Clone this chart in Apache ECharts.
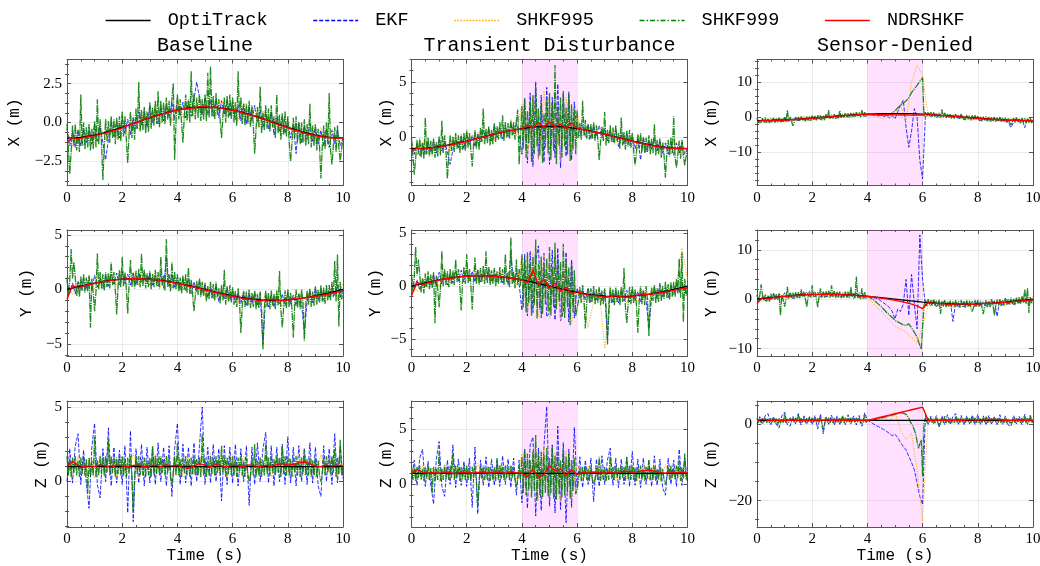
<!DOCTYPE html>
<html><head><meta charset="utf-8">
<script src="https://cdn.jsdelivr.net/npm/echarts@6/dist/echarts.min.js"></script>
<style>html,body{margin:0;padding:0;background:#fff}#c{width:1040px;height:566px}</style>
</head><body><div id="c"></div>
<script>
// ---------------- DATA ----------------
const seriesNames = ['OptiTrack','EKF','SHKF995','SHKF999','NDRSHKF'];
const columnTitles = ['Baseline','Transient Disturbance','Sensor-Denied'];
const rowLabels = ['X (m)','Y (m)','Z (m)'];
const xTickValues = [0,2,4,6,8,10];
const yMajorTicks = [[-2.5,0,2.5],[0,5],[-10,0,10],[-5,0,5],[-5,0,5],[-10,0,10],[0,5],[0,5],[-20,0]];

// sampling grids (s)
const tTruth = Array.from({length:21},(_,i)=>i*0.5);
const t005 = Array.from({length:201},(_,i)=>+(i*0.05).toFixed(2));
const t01 = Array.from({length:101},(_,i)=>+(i*0.1).toFixed(1));
const t02 = Array.from({length:51},(_,i)=>+(i*0.2).toFixed(1));

// OptiTrack reference (every 0.5 s)
const truthX = [-1,-0.951,-0.809,-0.588,-0.309,0,0.309,0.588,0.809,0.951,1,0.951,0.809,0.588,0.309,0,-0.309,-0.588,-0.809,-0.951,-1];
const truthY = [0,0.309,0.588,0.809,0.951,1,0.951,0.809,0.588,0.309,0,-0.309,-0.588,-0.809,-0.951,-1,-0.951,-0.809,-0.588,-0.309,0];
const truthZ = [1,1,1,1,1,1,1,1,1,1,1,1,1,1,1,1,1,1,1,1,1];

// ---- X row ----
const ekfBaseX = [
-0.4,-1.5,-0.6,-1.6,-0.5,-1.5,-0.4,-1.3,-0.3,-1.4,
-0.1,-1.2,-0.3,-1.3,-2.4,-1.1,0.0,-0.9,0.1,-1.0,
0.4,-0.7,0.2,-0.8,0.3,-0.4,0.7,-0.2,0.8,-0.3,
1.1,0.0,0.9,-0.1,1.0,0.1,1.2,0.3,1.3,0.2,
1.5,0.4,1.3,0.3,1.4,0.4,1.5,2.6,1.6,0.5,
1.6,0.5,1.4,0.4,1.5,0.3,1.4,0.5,1.5,0.4,
1.3,0.2,1.1,0.1,1.2,-0.1,1.0,0.1,1.1,0.0,
0.8,-0.3,0.6,-0.4,0.7,-0.8,0.3,-0.6,0.4,-0.7,
0.1,-1.0,-0.1,-2.0,0.0,-1.3,-0.2,-1.1,-0.1,-1.2,
-0.3,-1.4,-0.5,-1.5,-0.4,-1.6,-0.5,-1.4,-0.4,-1.5,
-1.0];
const shkf995BaseX = [
-0.4,-1.6,-0.4,-1.5,-0.3,-1.4,-0.1,-1.2,0.1,-1.0,
0.3,-0.8,0.5,-0.5,0.8,-0.3,1.0,-0.1,1.2,0.1,
1.4,0.3,1.5,0.4,1.6,0.4,1.6,0.4,1.5,0.3,
1.4,0.1,1.2,-0.1,1.0,-0.3,0.8,-0.5,0.5,-0.8,
0.3,-1.0,0.1,-1.2,-0.1,-1.4,-0.3,-1.5,-0.4,-1.6,-1.0];
const shkf999BaseX = [
-0.1,-1.7,-3.3,-1.9,-0.2,-1.5,-0.1,-1.8,-0.5,-1.9,1.8,-1.5,0.0,-1.7,-0.3,-1.6,-0.1,-1.8,-0.4,-1.7,
0.1,-1.6,1.5,-1.4,0.2,-1.3,-3.7,-1.5,0.2,-1.2,0.1,-1.3,0.4,-1.0,0.2,-1.4,0.3,-1.1,0.4,-1.2,
0.7,-0.9,0.4,-1.1,-2.6,-0.7,0.7,-1.0,0.3,-1.1,0.9,-0.4,2.6,-0.6,0.8,-0.5,1.0,-0.7,0.7,-0.6,
1.3,-0.4,1.0,-0.2,1.4,-0.1,2.0,-0.3,1.4,0.0,1.3,-0.1,1.6,0.2,1.4,-0.2,1.5,2.5,-2.4,0.0,
1.8,0.2,1.5,0.0,-1.3,0.4,1.8,0.1,1.4,0.0,3.3,0.4,1.9,0.2,1.6,0.3,1.8,0.1,1.5,0.2,
1.8,0.1,3.2,0.3,3.6,0.4,1.7,0.2,1.9,0.5,1.5,0.1,-1.0,0.4,1.6,0.0,1.7,0.3,1.8,0.2,
1.6,0.0,1.3,-0.2,3.3,0.2,1.6,-0.1,1.2,-0.2,1.2,-0.1,1.4,-0.3,1.1,-0.2,-2.0,-0.4,1.0,-0.3,
2.3,-0.7,0.7,-0.5,1.1,-0.4,0.9,-0.6,1.1,-0.3,0.4,-1.0,1.8,-0.7,0.5,-1.1,0.6,-0.8,0.7,-0.9,
0.4,-1.2,-2.5,-1.4,0.3,-1.0,0.4,-1.3,0.0,-1.4,0.0,-1.3,0.2,-1.5,-0.1,-1.4,1.2,-1.6,-0.2,-1.5,
-0.1,-1.8,-0.4,-1.6,-3.6,-1.5,-0.2,-1.7,0.0,-1.4,1.9,-1.8,-2.7,-1.5,-0.3,-1.9,-0.2,-1.6,-2.5,-1.7,
-1.0];
const ndrBaseX = [
-1.3,-0.95,-1.05,-0.97,-0.9,-0.86,-0.75,-0.68,-0.56,-0.47,
-0.35,-0.2,-0.08,0.04,0.2,0.33,0.41,0.55,0.6,0.72,
0.8,0.86,0.9,0.95,1.02,1.05,0.95,1.0,0.92,0.82,
0.8,0.72,0.6,0.5,0.4,0.28,0.2,0.02,-0.1,-0.22,
-0.33,-0.48,-0.55,-0.68,-0.76,-0.85,-0.92,-0.95,-1.0,-1.0,-0.98];

const ekfTransX = [
-0.4,-1.5,-0.6,-1.6,-0.5,-1.5,-0.4,-1.3,-0.3,-1.4,
-0.1,-1.2,-0.3,-1.3,-2.4,-1.1,0.0,-0.9,0.1,-1.0,
0.4,-0.7,0.2,-0.8,0.3,-0.4,0.7,-0.2,0.8,-0.3,
1.1,0.0,0.9,-0.1,1.0,0.1,1.2,0.3,1.3,0.2,
-1.5,3.5,-2.3,4.0,-2.6,5.0,-1.9,3.8,-2.2,4.5,
-2.4,3.6,-1.8,4.8,-2.7,3.9,-1.7,4.1,-2.0,3.2,
0.0,0.2,1.1,0.1,1.2,-0.1,1.0,0.1,1.1,0.0,
0.8,-0.3,0.6,-0.4,0.7,-0.8,0.3,-0.6,0.4,-0.7,
0.1,-1.0,-0.1,-2.0,0.0,-1.3,-0.2,-1.1,-0.1,-1.2,
-0.3,-1.4,-0.5,-1.5,-0.4,-1.6,-0.5,-1.4,-0.4,-1.5,
-1.0];
const shkf995TransX = [
-0.4,-1.6,-0.4,-1.5,-0.3,-1.4,-0.1,-1.2,0.1,-1.0,
0.3,-0.8,0.5,-0.5,0.8,-0.3,1.0,-0.1,1.2,0.1,
3.0,-1.8,3.8,-2.0,4.2,-1.6,3.5,-2.2,3.6,-1.4,
2.2,0.1,1.2,-0.1,1.0,-0.3,0.8,-0.5,0.5,-0.8,
0.3,-1.0,0.1,-1.2,-0.1,-1.4,-0.3,-1.5,-0.4,-1.6,-1.0];
const shkf999TransX = [
-0.1,-1.7,-3.3,-1.9,-0.2,-1.5,-0.1,-1.8,-0.5,-1.9,1.8,-1.5,0.0,-1.7,-0.3,-1.6,-0.1,-1.8,-0.4,-1.7,
0.1,-1.6,1.5,-1.4,0.2,-1.3,-3.7,-1.5,0.2,-1.2,0.1,-1.3,0.4,-1.0,0.2,-1.4,0.3,-1.1,0.4,-1.2,
0.7,-0.9,0.4,-1.1,-2.6,-0.7,0.7,-1.0,0.3,-1.1,0.9,-0.4,2.6,-0.6,0.8,-0.5,1.0,-0.7,0.7,-0.6,
1.3,-0.4,1.0,-0.2,1.4,-0.1,2.0,-0.3,1.4,0.0,1.3,-0.1,1.6,0.2,1.4,-0.2,1.5,2.5,-2.4,0.0,
2.8,-1.0,3.5,-1.8,2.4,-0.5,3.2,-2.2,3.8,-1.5,4.5,-0.8,2.6,-1.6,3.0,-2.3,2.2,-0.9,3.4,-1.4,
4.0,-2.0,3.1,-1.2,6.5,-2.4,2.8,-0.7,3.6,-1.8,4.2,-0.8,2.7,-1.5,3.9,-2.1,3.0,-1.1,2.5,-1.5,
2.5,0.0,1.3,-0.2,3.3,0.2,1.6,-0.1,1.2,-0.2,1.2,-0.1,1.4,-0.3,1.1,-0.2,-2.0,-0.4,1.0,-0.3,
2.3,-0.7,0.7,-0.5,1.1,-0.4,0.9,-0.6,1.1,-0.3,0.4,-1.0,1.8,-0.7,0.5,-1.1,0.6,-0.8,0.7,-0.9,
0.4,-1.2,-2.5,-1.4,0.3,-1.0,0.4,-1.3,0.0,-1.4,0.0,-1.3,0.2,-1.5,-0.1,-1.4,1.2,-1.6,-0.2,-1.5,
-0.1,-1.8,-0.4,-1.6,-3.6,-1.5,-0.2,-1.7,0.0,-1.4,1.9,-1.8,-2.7,-1.5,-0.3,-1.9,-0.2,-1.6,-2.5,-1.7,
-1.0];
const ndrTransX = [
-1.3,-0.95,-1.05,-0.97,-0.9,-0.86,-0.75,-0.68,-0.56,-0.47,
-0.35,-0.2,-0.08,0.04,0.2,0.33,0.41,0.55,0.6,0.72,
0.75,1.1,0.85,1.3,0.9,1.4,1.0,1.2,0.8,1.3,
0.85,0.72,0.6,0.5,0.4,0.28,0.2,0.02,-0.1,-0.22,
-0.33,-0.48,-0.55,-0.68,-0.76,-0.85,-0.92,-0.95,-1.0,-1.0,-0.98];

const ekfSensX = [
-0.4,-1.5,-0.6,-1.6,-0.5,-1.5,-0.4,-1.3,-0.3,-1.4,
-0.1,-1.2,-0.3,-1.3,-0.2,-1.1,0.0,-0.9,0.1,-1.0,
0.4,-0.7,0.2,-0.8,0.3,-0.4,0.7,-0.2,0.8,-0.3,
1.1,0.0,0.9,-0.1,1.0,0.1,1.2,0.3,1.3,0.2,
0.6,0.8,0.4,0.7,0.3,0.6,0.2,0.5,-0.3,0.4,
-0.5,1.5,3.5,4.8,-3.0,-8.6,-4.0,2.4,0.0,-12.4,
-17.6,0.2,1.1,0.1,1.2,-0.1,1.0,0.1,1.1,0.0,
0.8,-0.3,0.6,-0.4,0.7,-0.8,0.3,-0.6,0.4,-0.7,
0.1,-1.0,-0.1,-1.1,0.0,-1.3,-0.2,-1.1,-0.1,-1.2,
-0.3,-1.4,-3.0,-1.5,-0.4,-1.6,-0.5,-3.0,-0.4,-1.5,
-1.0];
const shkf995SensX = [
-0.4,-1.6,-0.4,-1.5,-0.3,-1.4,-0.1,-1.2,0.1,-1.0,
0.3,-0.8,0.5,-0.5,0.8,-0.3,1.0,-0.1,1.2,0.1,
0.8,0.4,0.0,-0.5,0.2,1.5,3.5,-1.5,10.0,14.7,
12.0,0.1,1.2,-0.1,1.0,-0.3,0.8,-0.5,0.5,-0.8,
0.3,-1.0,0.1,-1.2,-0.1,-1.4,-0.3,-1.5,-0.4,-1.6,-1.0];
const shkf999SensX = [
-0.3,-1.6,-2.0,-1.7,-0.3,-1.4,-0.2,-1.6,-0.6,-1.7,-0.3,-1.4,-0.2,-1.6,-0.4,-1.5,-0.2,-1.6,-0.5,-1.5,
0.0,-1.4,2.0,-1.3,0.0,-1.2,-2.5,-1.4,0.0,-1.1,0.0,-1.1,0.2,-0.9,0.1,-1.2,0.2,-1.0,0.2,-1.1,
0.5,-0.8,0.3,-0.9,0.5,-0.7,0.5,-0.9,0.2,-0.9,0.8,-0.4,2.0,-0.5,0.7,-0.4,0.8,-0.5,0.6,-0.5,
1.8,-0.2,0.9,-0.1,1.2,0.0,1.0,-0.2,1.2,0.0,1.2,0.0,1.4,0.2,1.3,0.0,2.0,0.1,1.4,0.1,
0.8,0.9,0.7,0.8,0.6,0.7,0.6,0.7,0.5,0.6,0.5,0.6,0.4,0.5,0.5,0.6,0.7,0.9,1.1,1.3,
1.8,2.2,2.6,3.0,3.3,3.6,4.0,4.3,4.6,5.0,5.5,6.2,7.0,7.5,8.0,8.5,9.0,9.6,10.2,10.7,
11.2,0.2,1.4,0.1,1.3,0.2,1.4,0.0,1.3,0.1,1.1,-0.1,1.2,-0.2,2.2,-0.1,1.2,-0.3,0.9,-0.2,
0.8,-0.5,0.6,-0.4,0.9,-0.3,0.7,-0.5,0.9,-0.2,0.3,-0.8,0.5,-0.6,0.4,-0.9,0.5,-0.7,0.5,-0.8,
0.2,-1.1,0.0,-1.2,0.1,-0.9,0.2,-1.2,-0.1,-1.2,-0.1,-1.2,0.0,-1.4,-0.2,-1.3,0.0,-1.4,-0.3,-1.3,
-0.2,-1.6,-0.4,-1.5,-2.2,-1.4,-0.3,-1.6,-0.1,-1.3,-0.4,-1.7,-0.2,-1.5,-0.3,-1.8,-0.3,-1.6,-0.2,-1.7,
-1.0];
const ndrSensX = [
-1.3,-0.95,-1.05,-0.97,-0.9,-0.86,-0.75,-0.68,-0.56,-0.47,
-0.35,-0.2,-0.08,0.04,0.2,0.33,0.41,0.55,0.6,0.72,
0.8,0.75,0.7,0.68,0.65,0.62,0.6,0.58,0.56,0.55,
0.54,0.95,0.6,0.5,0.4,0.28,0.2,0.02,-0.1,-0.22,
-0.33,-0.48,-0.55,-0.68,-0.76,-0.85,-0.92,-0.95,-1.0,-1.0,-0.98];

// ---- Y row ----
const ekfBaseY = [
0.8,-0.3,0.6,-0.4,0.7,-0.1,1.0,0.1,1.1,0.0,
1.3,0.2,1.1,0.1,1.2,0.3,1.4,0.5,1.5,0.4,
1.6,0.5,1.4,0.4,1.5,0.4,1.5,0.6,1.6,0.5,
1.5,0.4,1.3,0.3,1.4,0.1,3.0,0.3,1.3,0.2,
1.1,0.0,0.9,-0.1,1.0,-0.4,0.7,-0.2,0.8,-0.3,
0.4,-0.7,0.2,-0.8,0.3,-1.1,0.0,-0.9,0.1,-1.0,
-0.1,-1.2,-0.3,-1.3,-0.2,-1.5,-0.4,-1.3,-0.3,-1.4,
-0.4,-5.0,-0.6,-1.6,-0.5,-1.6,-0.5,-1.4,-0.4,-1.5,
-0.3,-1.4,-0.5,-1.5,-0.4,-1.3,-4.0,-1.1,-0.1,-1.2,
0.1,-1.0,-0.1,-1.1,0.0,-0.8,0.3,-0.6,0.4,-0.7,
0.0];
const shkf995BaseY = [
0.6,-0.5,0.8,-0.2,1.1,0.0,1.3,0.2,1.4,0.3,
1.5,0.4,1.6,0.4,1.6,0.4,1.5,0.2,1.4,0.1,
1.2,-0.1,1.0,-0.4,0.7,-0.6,0.5,-0.8,0.2,-1.0,
0.0,-1.3,-0.1,-1.4,-0.3,-1.5,-0.4,-1.6,-0.4,-1.6,
-0.4,-1.5,-0.3,-1.4,-0.1,-1.2,0.0,-1.0,0.3,-0.9,0.6];
const shkf999BaseY = [
1.1,-0.5,0.8,3.7,1.0,2.5,1.1,-0.6,0.7,-0.7,1.2,-0.1,1.4,-0.3,1.1,-0.2,1.3,-3.5,1.0,-0.3,
-2.0,-0.2,3.3,0.0,1.6,0.1,1.4,-0.1,1.6,0.2,1.5,0.1,2.5,0.4,1.6,0.0,-2.3,0.3,1.8,0.2,
3.0,0.3,1.6,0.1,-2.2,0.5,2.7,0.2,1.5,0.1,1.7,0.4,1.9,0.2,3.3,0.3,1.8,0.1,1.5,0.2,
1.7,0.0,1.4,0.2,1.8,0.3,1.6,0.1,3.0,0.4,1.3,-0.1,4.6,0.2,1.4,-0.2,2.5,0.1,1.6,0.0,
1.4,-0.2,1.1,-0.4,1.3,0.0,1.4,-0.3,2.0,-0.4,0.9,-0.4,-2.0,-0.6,0.8,-0.5,1.0,-0.7,0.7,-0.6,
0.6,-1.1,0.3,-0.9,0.7,-0.8,0.5,-1.0,0.7,-0.7,0.1,-1.3,0.4,-1.0,1.8,-1.4,0.3,-1.1,0.4,-1.2,
0.2,-1.4,-0.1,-1.6,0.1,-1.2,-4.0,-1.5,-0.2,-1.6,-0.2,-1.5,0.0,-1.7,-0.3,-1.6,-0.1,-1.8,-0.4,-1.7,
-0.2,-1.9,-5.5,-1.7,-0.1,-1.6,-0.3,-1.8,-0.1,-1.5,-0.4,-1.8,-0.1,-1.5,1.7,-1.9,-3.5,-1.6,-0.1,-1.7,
0.0,-1.6,-0.3,-1.8,-4.4,-1.4,0.0,-1.7,-0.4,-1.8,0.0,-1.3,-4.7,-1.5,-0.1,-1.4,0.1,-1.6,-0.2,-1.5,
0.3,-1.4,0.0,-1.2,0.4,-1.1,0.2,-1.3,0.4,-1.0,0.4,-1.0,0.7,-0.7,2.6,-1.1,3.2,-3.4,0.7,-0.9,
-0.3];
const ndrBaseY = [
-0.9,0.35,0.15,0.3,0.45,0.55,0.7,0.72,0.82,0.9,
0.95,0.95,1.0,1.0,0.95,0.9,0.92,0.8,0.72,0.65,
0.55,0.45,0.3,0.2,0.1,-0.05,-0.15,-0.3,-0.4,-0.55,
-0.6,-0.72,-0.85,-0.9,-0.95,-1.05,-1.0,-0.9,-1.0,-1.05,
-1.0,-0.85,-0.82,-0.78,-0.72,-0.62,-0.55,-0.45,-0.35,-0.25,-0.15];

const ekfTransY = [
0.8,-0.3,0.6,-0.4,0.7,-0.1,1.0,0.1,1.1,0.0,
1.3,0.2,1.1,0.1,1.2,0.3,1.4,0.5,1.5,0.4,
1.6,0.5,1.4,0.4,1.5,0.4,1.5,0.6,1.6,0.5,
1.5,0.4,1.3,0.3,1.4,0.1,3.0,0.3,1.3,0.2,
-2.3,3.0,-2.8,3.3,-2.5,2.4,3.8,-3.0,3.1,-2.9,
-2.5,3.4,-3.2,3.6,-3.3,-2.4,3.2,-3.4,2.5,-3.0,
-0.2,-1.2,-0.3,-1.3,-0.2,-1.5,-0.4,-1.3,-0.3,-1.4,
-0.4,-5.0,-0.6,-1.6,-0.5,-1.6,-0.5,-1.4,-0.4,-1.5,
-0.3,-1.4,-0.5,-1.5,-0.4,-1.3,-4.0,-1.1,-0.1,-1.2,
0.1,-1.0,-0.1,-1.1,0.0,-0.8,0.3,-0.6,0.4,-0.7,
0.0];
const shkf995TransY = [
0.6,-0.5,0.8,-0.2,1.1,0.0,1.3,0.2,1.4,0.3,
1.5,0.4,1.6,0.4,1.6,0.4,1.5,0.2,1.4,0.1,
2.8,-2.5,3.2,-2.9,3.0,-3.1,2.6,-3.3,2.4,-3.5,
-0.6,-1.3,-3.9,-1.4,-0.3,-5.9,-0.4,-1.6,-0.4,-1.6,
-0.4,-1.5,-0.3,-1.4,-0.1,-1.2,0.0,-1.0,0.3,3.6,0.6];
const shkf999TransY = [
1.1,-0.5,0.8,3.7,1.0,2.5,1.1,-0.6,0.7,-0.7,1.2,-0.1,1.4,-0.3,1.1,-0.2,1.3,-3.5,1.0,-0.3,
-2.0,-0.2,3.3,0.0,1.6,0.1,1.4,-0.1,1.6,0.2,1.5,0.1,2.5,0.4,1.6,0.0,-2.3,0.3,1.8,0.2,
3.0,0.3,1.6,0.1,-2.2,0.5,2.7,0.2,1.5,0.1,1.7,0.4,1.9,0.2,3.3,0.3,1.8,0.1,1.5,0.2,
1.7,0.0,1.4,0.2,1.8,0.3,1.6,0.1,3.0,0.4,1.3,-0.1,4.6,0.2,1.4,-0.2,2.5,0.1,1.6,0.0,
3.0,-2.0,2.5,-2.5,3.2,-1.6,2.2,-2.8,2.8,-1.8,4.4,-3.1,2.1,-2.2,2.8,-2.6,2.0,-1.7,2.6,-2.4,
3.7,-2.8,1.8,-2.0,4.1,-2.2,2.6,-1.5,2.3,-2.9,4.0,-3.0,2.4,-2.0,1.8,-3.7,2.2,-2.5,1.5,-2.8,
-2.8,-1.4,-0.1,-1.6,0.1,-1.2,-4.0,-1.5,-0.2,-1.6,-0.2,-1.5,0.0,-1.7,-0.3,-1.6,-0.1,-1.8,-0.4,-1.7,
-0.2,-1.9,-5.5,-1.7,-0.1,-1.6,-0.3,-1.8,-0.1,-1.5,-0.4,-1.8,-0.1,-1.5,1.7,-1.9,-3.5,-1.6,-0.1,-1.7,
0.0,-1.6,-0.3,-1.8,-4.4,-1.4,0.0,-1.7,-0.4,-1.8,0.0,-1.3,-4.7,-1.5,-0.1,-1.4,0.1,-1.6,-0.2,-1.5,
0.3,-1.4,0.0,-1.2,0.4,-1.1,0.2,-1.3,0.4,-1.0,0.4,-1.0,0.7,-0.7,2.6,-1.1,3.2,-3.4,0.7,-0.9,
-0.3];
const ndrTransY = [
-0.9,0.35,0.15,0.3,0.45,0.55,0.7,0.72,0.82,0.9,
0.95,0.95,1.0,1.0,0.95,0.9,0.92,0.8,0.72,0.65,
0.6,0.3,1.5,0.1,0.6,-0.2,0.3,-0.5,-0.1,-0.7,
-0.5,-0.72,-0.85,-0.9,-0.95,-1.05,-1.0,-0.9,-1.0,-1.05,
-1.0,-0.85,-0.82,-0.78,-0.72,-0.62,-0.55,-0.45,-0.35,-0.25,-0.15];

const ekfSensY = [
0.8,-0.3,0.6,-0.4,0.7,-0.1,1.0,0.1,1.1,0.0,
1.3,0.2,1.1,0.1,1.2,0.3,1.4,0.5,1.5,0.4,
1.6,0.5,1.4,0.4,1.5,0.4,1.5,0.6,1.6,0.5,
1.5,0.4,1.3,0.3,1.4,0.1,1.2,0.3,1.3,0.2,
0.6,0.5,0.3,0.2,0.0,-0.4,-0.8,-1.2,-1.7,-2.5,
-4.0,-2.0,-2.5,-1.0,4.0,-3.3,5.0,-1.0,-6.0,13.0,
4.0,-1.2,-0.3,-1.3,-0.2,-1.5,-0.4,-1.3,-0.3,-1.4,
-0.4,-4.5,-0.6,-1.6,-0.5,-1.6,-0.5,-1.4,-0.4,-1.5,
-0.3,-1.4,-0.5,-1.5,-0.4,-1.3,-0.2,-3.5,-0.1,-1.2,
0.1,-1.0,-0.1,-1.1,0.0,-0.8,0.3,-0.6,0.4,-0.7,
0.0];
const shkf995SensY = [
0.6,-0.5,0.8,-0.2,1.1,0.0,1.3,0.2,1.4,0.3,
1.5,0.4,1.6,0.4,1.6,0.4,1.5,0.2,1.4,0.1,
0.6,-0.8,-2.0,-3.0,-4.3,-5.5,-6.0,-6.7,-7.8,-8.8,
-5.5,-1.3,-0.1,-1.4,-0.3,-1.5,-0.4,-1.6,-0.4,-1.6,
-0.4,-1.5,-0.3,-1.4,-0.1,-1.2,0.0,-1.0,0.3,-0.9,0.6];
const shkf999SensY = [
0.9,-0.4,0.7,3.0,0.8,-0.3,0.9,-0.5,0.6,-0.5,1.1,0.0,1.2,-0.2,1.0,-0.1,1.2,-3.3,0.9,-0.2,
-1.5,0.0,2.5,0.1,1.4,0.2,1.3,0.0,1.4,0.2,1.4,0.2,2.0,0.4,1.5,0.1,-1.6,0.3,1.6,0.3,
2.8,0.4,1.5,0.2,-1.6,0.5,2.2,0.3,1.4,0.3,1.6,0.4,1.7,0.3,2.8,0.4,1.6,0.2,1.5,0.3,
1.5,0.2,1.3,0.3,1.6,0.3,1.5,0.2,2.5,0.4,1.2,0.1,4.6,0.2,1.3,0.0,2.2,0.1,1.4,0.1,
0.6,0.5,0.3,0.2,0.0,-0.2,-0.5,-0.7,-1.0,-1.2,-1.5,-1.8,-2.1,-2.4,-2.7,-3.0,-3.2,-3.5,-3.7,-4.0,
-4.3,-4.4,-4.6,-4.8,-4.9,-5.1,-5.2,-5.3,-5.3,-5.2,-5.0,-5.4,-5.8,-6.2,-6.7,-7.2,-7.7,-8.5,-9.4,-10.1,
-10.3,-1.3,-0.1,-1.4,0.0,-1.1,-0.2,-1.3,-0.1,-1.4,-0.3,-1.4,-0.1,-3.0,-0.4,-1.5,-0.2,-1.6,-0.4,-1.5,
-0.3,-1.7,-0.5,-1.6,-0.2,-1.5,-0.4,-1.7,-0.2,-1.5,-0.4,-1.7,-0.2,-1.5,-0.3,-1.8,-2.5,-1.6,-0.2,-1.6,
-0.2,-1.5,-0.3,-1.6,-3.0,-1.4,-0.2,-1.6,-0.4,-1.6,0.0,-1.2,-3.3,-1.4,-0.1,-1.3,0.0,-1.4,-0.2,-1.3,
0.2,-1.2,0.0,-1.1,0.3,-1.0,0.1,-1.2,0.3,-0.9,0.4,-0.9,0.6,-0.7,2.0,-0.9,2.2,-2.8,0.5,-0.8,
-0.2];
const ndrSensY = [
-0.9,0.35,0.15,0.3,0.45,0.55,0.7,0.72,0.82,0.9,
0.95,0.95,1.0,1.0,0.95,0.9,0.92,0.8,0.72,0.65,
0.6,0.45,0.3,0.12,-0.05,-0.25,-0.45,-0.7,-1.0,-1.35,
-1.9,-0.72,-0.85,-0.9,-0.95,-1.05,-1.0,-0.9,-1.0,-1.05,
-1.0,-0.85,-0.82,-0.78,-0.72,-0.62,-0.55,-0.45,-0.35,-0.25,-0.15];

// ---- Z row ----
const ekfBaseZ = [
0.0,2.2,-0.1,2.4,3.2,-0.2,2.1,-0.1,-1.8,2.3,
3.9,-0.2,-1.1,2.2,0.0,3.6,-0.3,2.3,-0.1,2.1,
-0.2,2.4,-2.1,3.4,-2.7,2.2,-0.1,2.5,-0.3,2.3,
-0.1,2.2,-0.2,2.6,0.0,2.3,-0.3,2.4,-1.0,2.2,
3.9,-0.2,2.5,-0.1,2.3,-0.3,2.6,0.0,2.4,5.0,
-0.2,2.3,-0.1,2.5,0.0,2.2,-1.3,2.4,-0.2,2.3,
-0.1,2.5,-0.3,2.2,0.0,2.4,-1.6,2.3,-0.2,2.6,
0.0,2.2,3.3,-0.1,2.4,-0.3,2.3,0.0,2.5,-0.2,
3.0,-0.1,2.3,-0.3,2.4,0.0,2.2,-0.2,2.6,-0.1,
2.3,-0.3,-1.0,2.4,0.0,2.2,-0.2,3.2,-0.1,2.4,
0.2];
const shkf995BaseZ = [
1.5,0.3,1.7,0.4,1.6,0.2,1.8,0.5,1.6,0.3,
1.7,0.4,1.9,0.2,1.6,0.5,1.8,0.3,1.7,0.4,
1.8,0.3,1.6,0.5,1.7,0.2,1.9,0.4,1.6,0.3,
1.8,0.5,1.7,0.2,1.6,0.4,1.8,0.3,1.7,0.5,
1.6,0.3,1.9,0.4,1.7,0.2,1.8,0.4,1.6,0.3,1.2];
const shkf999BaseZ = [
1.7,0.4,1.5,0.3,1.6,0.6,1.7,0.4,1.4,0.3,1.6,0.5,1.7,0.4,1.5,-0.8,1.6,0.3,1.4,0.4,
3.0,0.3,1.4,0.4,1.7,0.5,1.6,0.4,1.7,0.6,2.8,0.4,1.7,0.6,1.6,0.3,1.6,0.5,1.7,0.4,
1.7,0.4,1.5,0.3,1.6,0.6,1.7,0.4,-2.0,0.3,1.6,0.5,1.7,0.4,1.5,0.4,1.6,0.3,1.4,0.4,
1.6,0.3,2.4,0.4,1.7,0.5,1.6,0.4,1.7,0.6,1.5,0.4,1.7,0.6,1.6,0.3,-0.2,0.5,1.7,0.4,
2.6,0.4,1.5,0.3,1.6,0.6,1.7,0.4,1.4,0.3,1.6,0.5,1.7,0.4,1.5,0.4,1.6,0.3,3.2,0.4,
1.6,0.3,1.4,0.4,1.7,0.5,1.6,0.4,1.7,0.6,1.5,0.4,2.4,0.6,1.6,0.3,1.6,0.5,1.7,0.4,
1.7,0.4,1.5,0.3,1.6,0.6,1.7,0.4,1.4,0.3,1.6,0.5,0.0,0.4,1.5,0.4,2.5,0.3,1.4,0.4,
1.6,0.3,1.4,0.4,2.6,0.5,1.6,0.4,1.7,0.6,1.5,0.4,1.7,0.6,1.6,0.3,2.4,0.5,1.7,0.4,
1.7,0.4,1.5,0.3,1.6,0.6,1.7,0.4,1.4,0.3,1.6,0.5,2.2,0.4,1.5,0.4,1.6,0.3,1.4,0.4,
1.6,0.3,1.4,0.4,0.0,0.5,1.6,0.4,1.7,0.6,1.5,0.4,1.7,0.6,2.2,0.3,1.6,0.5,2.8,0.4,
1.0];
const ndrBaseZ = [
1.0,1.35,1.1,1.0,1.05,1.0,1.1,1.05,0.95,1.1,
1.05,1.0,1.08,1.1,1.0,1.05,1.1,1.0,1.12,1.05,
1.1,0.95,0.88,1.05,1.2,1.1,1.0,1.15,1.05,1.0,
1.1,1.05,1.0,1.12,1.05,1.0,1.1,1.0,1.15,1.2,
1.1,1.15,1.25,1.3,1.2,1.05,1.0,1.1,1.05,1.1,1.05];

const ekfTransZ = [
0.0,2.2,-0.1,2.4,3.2,-0.2,2.1,-0.1,-1.8,2.3,
3.9,-0.2,-1.1,2.2,0.0,3.6,-0.3,2.3,-0.1,2.1,
-0.2,2.4,-2.1,3.4,-2.7,2.2,-0.1,2.5,-0.3,2.3,
-0.1,2.2,-0.2,2.6,0.0,2.3,-0.3,2.4,-1.0,2.2,
-1.7,3.2,-2.2,3.6,4.3,-2.9,3.3,-2.4,3.5,7.1,
-2.0,3.6,-2.6,5.3,-2.3,3.8,-3.5,3.2,-2.1,5.2,
-0.3,2.5,-0.3,2.2,0.0,2.4,-1.6,2.3,-0.2,2.6,
0.0,2.2,3.3,-0.1,2.4,-0.3,2.3,0.0,2.5,-0.2,
3.0,-0.1,2.3,-0.3,2.4,0.0,2.2,-0.2,2.6,-0.1,
2.3,-0.3,-1.0,2.4,0.0,2.2,-0.2,3.2,-0.1,2.4,
0.2];
const shkf995TransZ = [
1.5,0.3,1.7,0.4,1.6,0.2,1.8,0.5,1.6,0.3,
1.7,0.4,1.9,0.2,1.6,0.5,1.8,0.3,1.7,0.4,
2.8,-1.2,3.0,-1.5,3.4,-1.0,2.9,-1.6,3.1,-1.3,
1.9,0.5,1.7,0.2,1.6,0.4,1.8,0.3,1.7,0.5,
1.6,0.3,1.9,0.4,1.7,0.2,1.8,0.4,1.6,0.3,1.2];
const shkf999TransZ = [
1.7,0.4,1.5,0.3,1.6,0.6,1.7,0.4,1.4,0.3,1.6,0.5,1.7,0.4,1.5,-0.8,1.6,0.3,1.4,0.4,
3.0,0.3,1.4,0.4,1.7,0.5,1.6,0.4,1.7,0.6,2.8,0.4,1.7,0.6,1.6,0.3,1.6,0.5,1.7,0.4,
1.7,0.4,1.5,0.3,1.6,0.6,1.7,0.4,-2.0,0.3,1.6,0.5,1.7,0.4,1.5,0.4,1.6,0.3,1.4,0.4,
1.6,0.3,2.4,0.4,1.7,0.5,1.6,0.4,1.7,0.6,1.5,0.4,1.7,0.6,1.6,0.3,-0.2,0.5,1.7,0.4,
2.5,-0.8,3.2,-1.0,2.8,-0.5,2.2,-1.2,3.0,-0.6,4.5,-1.5,2.6,-1.0,3.0,-1.2,2.7,-0.8,3.3,-1.1,
2.4,-0.8,3.5,-1.3,2.6,-1.4,3.0,-0.9,2.2,-1.2,3.1,-1.0,2.5,-0.7,2.8,-1.3,2.2,-0.6,2.4,-0.9,
-0.5,0.4,1.5,0.3,1.6,0.6,1.7,0.4,1.4,0.3,1.6,0.5,0.0,0.4,1.5,0.4,2.5,0.3,1.4,0.4,
1.6,0.3,1.4,0.4,2.6,0.5,1.6,0.4,1.7,0.6,1.5,0.4,1.7,0.6,1.6,0.3,2.4,0.5,1.7,0.4,
1.7,0.4,1.5,0.3,1.6,0.6,1.7,0.4,1.4,0.3,1.6,0.5,2.2,0.4,1.5,0.4,1.6,0.3,1.4,0.4,
1.6,0.3,1.4,0.4,0.0,0.5,1.6,0.4,1.7,0.6,1.5,0.4,1.7,0.6,2.2,0.3,1.6,0.5,2.8,0.4,
1.0];
const ndrTransZ = [
1.0,1.35,1.1,1.0,1.05,1.0,1.1,1.05,0.95,1.1,
1.05,1.0,1.08,1.1,1.0,1.05,1.1,1.0,1.12,1.05,
1.0,0.7,1.4,0.6,0.9,1.7,1.2,1.4,0.8,1.3,
0.9,1.05,1.0,1.12,1.05,1.0,1.1,1.0,1.15,1.2,
1.1,1.15,1.25,1.3,1.2,1.05,1.0,1.1,1.05,1.1,1.05];

const ekfSensZ = [
0.1,2.0,0.0,2.3,2.8,-0.1,2.0,0.0,-1.0,2.2,
3.2,-0.1,-0.5,2.1,0.1,2.8,-0.2,2.2,0.0,2.0,
-0.1,2.3,-1.2,2.7,-2.5,2.1,0.0,2.4,-0.2,2.2,
0.0,2.1,-0.1,2.5,0.1,2.2,-0.2,2.3,-0.5,3.0,
1.1,0.6,0.2,-0.3,-0.6,-1.0,-1.4,-1.9,-2.4,-3.0,
-2.6,-3.5,-4.8,-5.8,-6.7,-8.4,-10.0,-11.9,-15.4,-18.9,
-21.0,2.3,-0.2,2.1,0.1,2.3,-0.8,2.2,-0.1,2.5,
0.1,2.1,2.8,0.0,2.3,-0.2,2.2,0.1,2.4,-0.1,
2.6,0.0,2.2,-0.2,2.3,0.1,2.1,-0.1,2.5,0.0,
2.2,-0.2,-0.5,2.3,0.1,2.1,-0.1,2.6,0.0,2.3,
0.3];
const shkf995SensZ = [
1.5,0.4,1.7,0.5,1.6,0.3,1.8,0.6,1.5,0.4,
1.7,0.5,1.9,0.3,1.6,0.6,1.8,0.4,1.7,0.5,
1.1,1.4,1.8,2.0,0.7,3.3,-1.5,-4.0,-2.3,-12.0,
-25.4,1.6,0.4,1.8,0.5,1.7,0.3,1.9,0.6,1.5,
0.4,1.8,0.5,1.6,0.3,1.7,0.6,1.9,0.4,1.6,1.0];
const shkf999SensZ = [
1.7,0.4,1.5,0.3,1.6,0.6,1.7,0.4,1.4,0.3,1.6,0.5,1.7,0.4,1.5,-0.3,1.6,0.3,1.4,0.4,
2.8,0.3,1.4,0.4,1.7,0.5,1.6,0.4,1.7,0.6,2.5,0.4,1.7,0.6,1.6,0.3,1.6,0.5,1.7,0.4,
1.7,0.4,1.5,0.3,1.6,0.6,1.7,0.4,-1.5,0.3,1.6,0.5,1.7,0.4,1.5,0.4,1.6,0.3,1.4,0.4,
1.6,0.3,2.2,0.4,1.7,0.5,1.6,0.4,1.7,0.6,1.5,0.4,1.7,0.6,1.6,0.3,0.0,0.5,2.5,0.4,
1.1,1.1,1.2,1.1,1.1,1.2,1.3,1.3,1.4,1.5,1.6,1.7,1.8,1.9,2.0,2.1,2.2,2.3,2.4,2.5,
2.6,2.7,2.8,2.9,3.0,3.0,2.9,2.8,2.6,2.4,1.6,0.7,0.5,-0.5,-1.5,-2.5,-4.5,-6.3,-5.0,-4.1,
-13.7,0.4,1.5,0.3,1.6,0.6,1.7,0.4,1.4,0.3,1.6,0.5,-0.5,0.4,1.5,0.4,2.2,0.3,1.4,0.4,
1.6,0.3,1.4,0.4,2.2,0.5,1.6,0.4,1.7,0.6,1.5,0.4,1.7,0.6,1.6,0.3,1.9,0.5,1.7,0.4,
1.7,0.4,1.5,0.3,1.6,0.6,2.0,0.4,1.4,0.3,1.6,0.5,1.7,0.4,1.5,0.4,1.6,0.3,1.4,0.4,
1.6,0.3,1.4,0.4,0.6,0.5,1.6,0.4,1.7,0.6,1.5,0.4,1.7,0.6,2.0,0.3,1.6,0.5,2.4,0.4,
1.0];
const ndrSensZ = [
1.0,1.35,1.1,1.0,1.05,1.0,1.1,1.05,0.95,1.1,
1.05,1.0,1.08,1.1,1.0,1.05,1.1,1.0,1.12,1.05,
1.0,1.35,1.7,2.05,2.4,2.75,3.1,3.45,3.8,4.15,
4.5,1.05,1.0,1.12,1.05,1.0,1.1,1.0,1.15,1.2,
1.1,1.15,1.25,1.3,1.2,1.05,1.0,1.1,1.05,1.1,1.05];

// panel -> data (rows X, Y, Z; columns Baseline, Transient, Sensor-Denied)
const panelData = [
  {truth:truthX, ekf:ekfBaseX,  s995:shkf995BaseX,  s999:shkf999BaseX,  ndr:ndrBaseX},
  {truth:truthX, ekf:ekfTransX, s995:shkf995TransX, s999:shkf999TransX, ndr:ndrTransX},
  {truth:truthX, ekf:ekfSensX,  s995:shkf995SensX,  s999:shkf999SensX,  ndr:ndrSensX},
  {truth:truthY, ekf:ekfBaseY,  s995:shkf995BaseY,  s999:shkf999BaseY,  ndr:ndrBaseY},
  {truth:truthY, ekf:ekfTransY, s995:shkf995TransY, s999:shkf999TransY, ndr:ndrTransY},
  {truth:truthY, ekf:ekfSensY,  s995:shkf995SensY,  s999:shkf999SensY,  ndr:ndrSensY},
  {truth:truthZ, ekf:ekfBaseZ,  s995:shkf995BaseZ,  s999:shkf999BaseZ,  ndr:ndrBaseZ},
  {truth:truthZ, ekf:ekfTransZ, s995:shkf995TransZ, s999:shkf999TransZ, ndr:ndrTransZ},
  {truth:truthZ, ekf:ekfSensZ,  s995:shkf995SensZ,  s999:shkf999SensZ,  ndr:ndrSensZ}
];

// ---------------- LAYOUT / STYLE ----------------
const MONO = "'Liberation Mono','DejaVu Sans Mono',monospace";
const SERIF = "'Liberation Serif','DejaVu Serif',serif";
const colLeft = [67, 411.5, 757];
const rowTop = [59.5, 230, 401];
const gridW = 276, gridH = 126;
const yRange = [[-4.05,4.05],[-4.3,7.0],[-19.5,16.4],[-6.1,5.45],[-6.6,5.3],[-11.5,14.0],[-3.05,5.4],[-3.9,7.6],[-26.9,6.1]];
const yMinorStep = [0.625,1,2,1,1,2,1,1,5];
const yDecimals = [1,0,0,0,0,0,0,0,0];
const yNameGap = [[44,17,37],[32,28,37],[17,17,37]];
const AX = '#555';
const fmt = (v, d) => (v < 0 ? '\u2212' : '') + Math.abs(v).toFixed(d);
const pair = (t, v) => v.map((y, i) => [t[i], y]);

const grid = [], xAxis = [], yAxis = [], series = [];
for (let r = 0; r < 3; r++) for (let c = 0; c < 3; c++) {
  const g = r * 3 + c;
  grid.push({left: colLeft[c], top: rowTop[r], width: gridW, height: gridH, outerBoundsMode: 'none', containLabel: false});
  const [ymin, ymax] = yRange[g];
  const majors = yMajorTicks[g];
  const minors = [];
  const ms = yMinorStep[g];
  for (let k = Math.ceil(ymin / ms); k * ms <= ymax; k++) {
    const v = +(k * ms).toFixed(4);
    if (!majors.some(m => Math.abs(m - v) < 1e-6)) minors.push(v);
  }
  const baseX = {type: 'value', gridIndex: g, min: 0, max: 10, interval: 2,
    axisLine: {show: true, onZero: false, lineStyle: {color: AX, width: 1}},
    axisTick: {show: true, inside: true, length: 4, lineStyle: {color: AX}},
    minorTick: {show: true, splitNumber: 4, length: 2, lineStyle: {color: AX}},
    minorSplitLine: {show: false}};
  xAxis.push(Object.assign({}, baseX, {position: 'bottom',
    splitLine: {show: true, lineStyle: {color: '#e6e6e6', width: 0.8}},
    axisLabel: {show: true, margin: 5, fontFamily: SERIF, fontSize: 15, color: '#000', formatter: v => fmt(v, 0)},
    name: r === 2 ? 'Time (s)' : '', nameLocation: 'middle', nameGap: 20,
    nameTextStyle: {fontFamily: MONO, fontSize: 16, color: '#000'}}));
  xAxis.push(Object.assign({}, baseX, {position: 'top', splitLine: {show: false}, axisLabel: {show: false}}));
  const baseY = {type: 'value', gridIndex: g, min: ymin, max: ymax, minorTick: {show: false}};
  yAxis.push(Object.assign({}, baseY, {position: 'left',
    axisLine: {show: true, onZero: false, lineStyle: {color: AX, width: 1}},
    axisTick: {show: true, inside: true, length: 4, customValues: majors, lineStyle: {color: AX}},
    axisLabel: {show: true, customValues: majors, margin: 5, fontFamily: SERIF, fontSize: 15, color: '#000', formatter: v => fmt(v, yDecimals[g])},
    splitLine: {show: true, lineStyle: {color: '#e6e6e6', width: 0.8}},
    name: rowLabels[r], nameLocation: 'middle', nameGap: yNameGap[r][c],
    nameTextStyle: {fontFamily: MONO, fontSize: 16, color: '#000'}}));
  yAxis.push(Object.assign({}, baseY, {position: 'left', axisLine: {show: false},
    axisTick: {show: true, inside: true, length: 2, customValues: minors, lineStyle: {color: AX}},
    axisLabel: {show: false}, splitLine: {show: false}}));
  yAxis.push(Object.assign({}, baseY, {position: 'right',
    axisLine: {show: true, onZero: false, lineStyle: {color: AX, width: 1}},
    axisTick: {show: true, inside: true, length: 4, customValues: majors, lineStyle: {color: AX}},
    axisLabel: {show: false}, splitLine: {show: false}}));
  yAxis.push(Object.assign({}, baseY, {position: 'right', axisLine: {show: false},
    axisTick: {show: true, inside: true, length: 2, customValues: minors, lineStyle: {color: AX}},
    axisLabel: {show: false}, splitLine: {show: false}}));

  const d = panelData[g];
  const mk = (name, t, vals, color, type, width, opacity, z) => ({
    type: 'line', name, xAxisIndex: 2 * g, yAxisIndex: 4 * g, data: pair(t, vals),
    showSymbol: false, symbol: 'none', z, silent: true, animation: false,
    lineStyle: {color, width, type, opacity}, itemStyle: {color}, emphasis: {disabled: true}
  });
  const ekf = mk('EKF', t01, d.ekf, '#0000ff', [4, 1.5], 1, 0.8, 2);
  if (c > 0) ekf.markArea = {silent: true, itemStyle: {color: 'rgba(255,0,255,0.12)'}, data: [[{xAxis: 4}, {xAxis: 6}]]};
  series.push(ekf);
  series.push(mk('SHKF995', t02, d.s995, '#ffa500', [1.2, 1.4], 1, 0.85, 3));
  series.push(mk('SHKF999', t005, d.s999, '#0a7d0a', [7, 1, 1.2, 1], 1.3, 0.9, 4));
  series.push(mk('OptiTrack', tTruth, d.truth, '#000000', 'solid', 1.2, 1, 5));
  series.push(mk('NDRSHKF', t02, d.ndr, '#ff0000', 'solid', 1.4, 1, 6));
}

const chart = echarts.init(document.getElementById('c'), null, {renderer: 'canvas'});
chart.setOption({
  animation: false,
  backgroundColor: '#fff',
  legend: {top: 6, left: 100, orient: 'horizontal', itemWidth: 45, itemHeight: 14, itemGap: 45,
    selectedMode: false,
    itemStyle: {opacity: 0, borderWidth: 0},
    lineStyle: {opacity: 1, width: 1.3},
    data: [
      {name: 'OptiTrack'},
      {name: 'EKF', lineStyle: {type: [4, 2], opacity: 1, width: 1.3}},
      {name: 'SHKF995', lineStyle: {type: [1.5, 1.6], opacity: 1, width: 1.3}},
      {name: 'SHKF999', lineStyle: {type: [5, 2, 1.5, 2], opacity: 1, width: 1.3, color: '#008000'}},
      {name: 'NDRSHKF', lineStyle: {width: 1.3}}
    ],
    textStyle: {fontFamily: MONO, fontSize: 18.5, color: '#000', padding: [0, 0, 0, 12]}},
  graphic: columnTitles.map((t, c) => ({type: 'text', x: colLeft[c] + gridW / 2, y: 46, silent: true,
    style: {text: t, fill: '#000', font: "20px " + MONO, align: 'center', verticalAlign: 'middle'}})),
  grid, xAxis, yAxis, series
});
</script></body></html>
